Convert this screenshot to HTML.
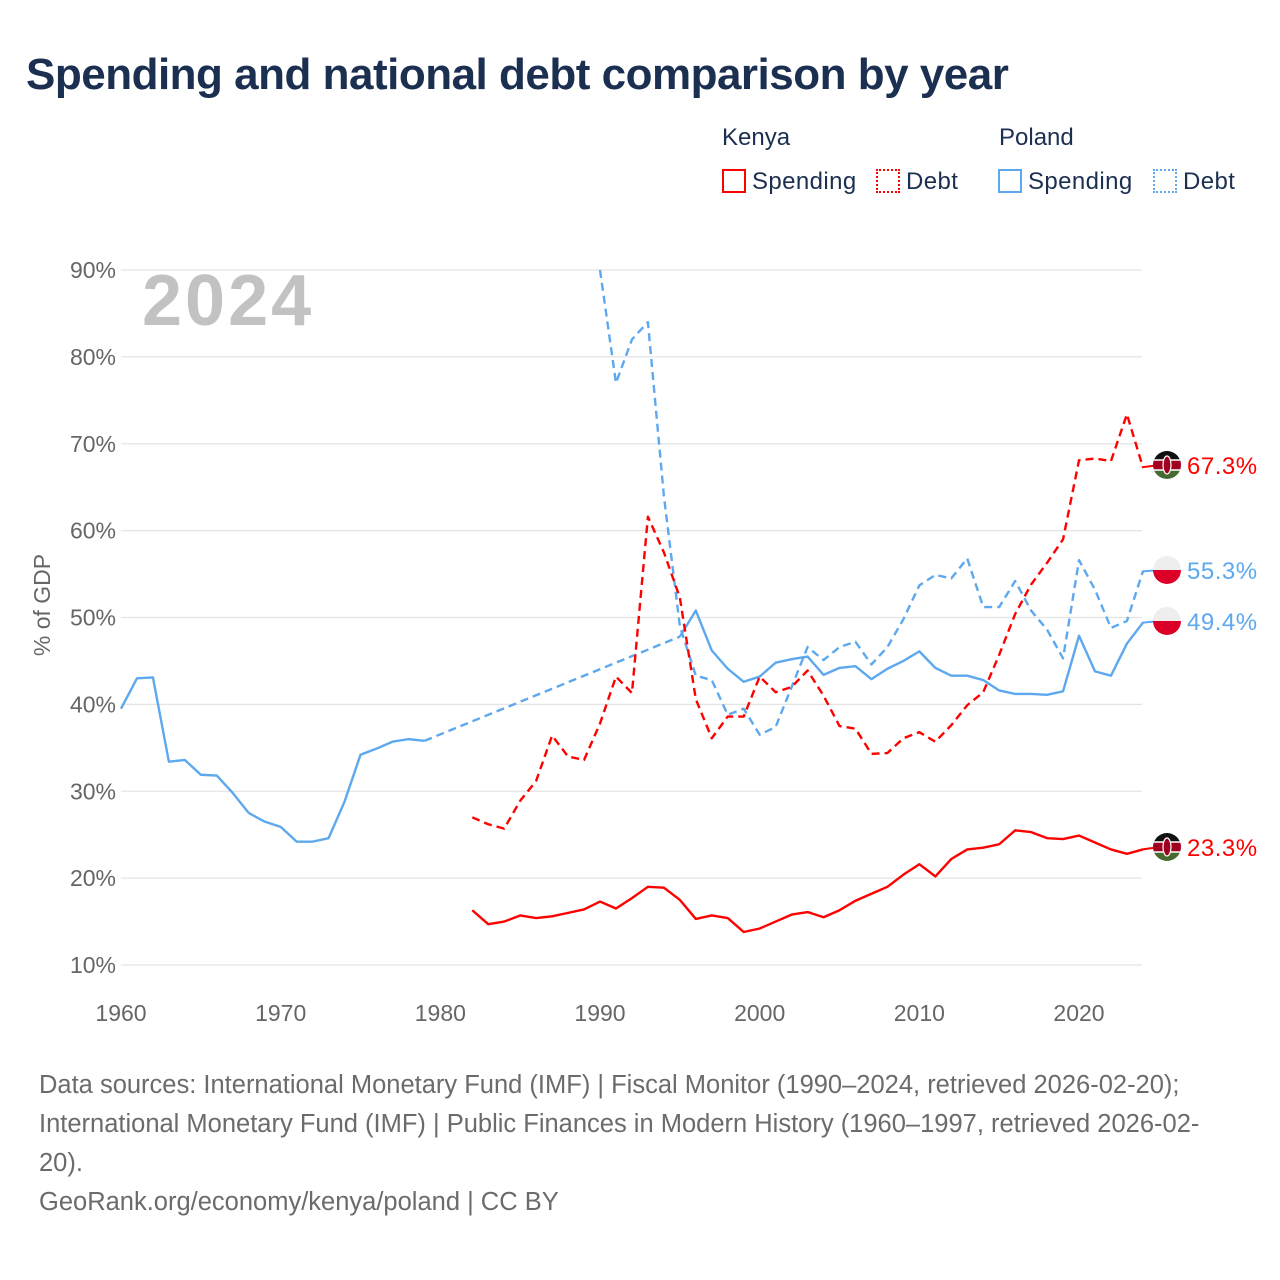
<!DOCTYPE html>
<html><head><meta charset="utf-8">
<style>
body{margin:0;background:#fff;font-family:"Liberation Sans",sans-serif;}
#wrap{position:relative;width:1280px;height:1280px;overflow:hidden;}
.t{position:absolute;white-space:nowrap;}
</style></head>
<body>
<div id="wrap">
<div class="t" style="left:26px;top:50px;font-size:44px;font-weight:bold;color:#1b2f50;letter-spacing:-0.5px;">Spending and national debt comparison by year</div>
<div class="t" style="left:722px;top:124px;font-size:24px;color:#1b2f50;">Kenya</div>
<div class="t" style="left:999px;top:124px;font-size:24px;color:#1b2f50;">Poland</div>
<div class="t" style="left:722px;top:168px;font-size:24px;color:#1b2f50;letter-spacing:0.4px;"><span style="display:inline-block;width:24px;height:24px;border:2px solid #ff0000;vertical-align:-4px;margin-right:6px;box-sizing:border-box;"></span>Spending</div>
<div class="t" style="left:876px;top:168px;font-size:24px;color:#1b2f50;letter-spacing:0.4px;"><span style="display:inline-block;width:24px;height:24px;border:2px dotted #ff0000;vertical-align:-4px;margin-right:6px;box-sizing:border-box;"></span>Debt</div>
<div class="t" style="left:998px;top:168px;font-size:24px;color:#1b2f50;letter-spacing:0.4px;"><span style="display:inline-block;width:24px;height:24px;border:2px solid #5da8ee;vertical-align:-4px;margin-right:6px;box-sizing:border-box;"></span>Spending</div>
<div class="t" style="left:1153px;top:168px;font-size:24px;color:#1b2f50;letter-spacing:0.4px;"><span style="display:inline-block;width:24px;height:24px;border:2px dotted #5da8ee;vertical-align:-4px;margin-right:6px;box-sizing:border-box;"></span>Debt</div>
<svg id="chart" width="1280" height="1280" style="position:absolute;left:0;top:0;"></svg>
<div class="t" style="left:39px;top:1066px;font-size:25.5px;line-height:39px;color:#6b6b6b;">Data sources: International Monetary Fund (IMF) | Fiscal Monitor (1990–2024, retrieved 2026-02-20);<br>International Monetary Fund (IMF) | Public Finances in Modern History (1960–1997, retrieved 2026-02-<br>20).<br>GeoRank.org/economy/kenya/poland | CC BY</div>
</div>
<script>
const yTicks=[10,20,30,40,50,60,70,80,90];
const xTicks=[1960,1970,1980,1990,2000,2010,2020];
const plYearsA=[1960,1961,1962,1963,1964,1965,1966,1967,1968,1969,1970,1971,1972,1973,1974,1975,1976,1977,1978,1979];
const plSpendA=[39.5,43,43.1,33.4,33.6,31.9,31.8,29.8,27.5,26.5,25.9,24.2,24.2,24.6,28.8,34.2,34.9,35.7,36,35.8];
const plYearsB=[1995,1996,1997,1998,1999,2000,2001,2002,2003,2004,2005,2006,2007,2008,2009,2010,2011,2012,2013,2014,2015,2016,2017,2018,2019,2020,2021,2022,2023,2024];
const plSpendB=[47.8,50.8,46.2,44.1,42.6,43.2,44.8,45.2,45.5,43.4,44.2,44.4,42.9,44.1,45,46.1,44.2,43.3,43.3,42.8,41.6,41.2,41.2,41.1,41.5,47.9,43.8,43.3,47,49.4];
const plDebtYears=[1990,1991,1992,1993,1994,1995,1996,1997,1998,1999,2000,2001,2002,2003,2004,2005,2006,2007,2008,2009,2010,2011,2012,2013,2014,2015,2016,2017,2018,2019,2020,2021,2022,2023,2024];
const plDebt=[90,77,82,84,64,49,43.3,42.8,38.8,39.5,36.5,37.4,42,46.6,45.1,46.6,47.2,44.6,46.6,49.8,53.7,54.9,54.5,56.8,51.2,51.2,54.2,50.8,48.6,45.3,56.6,53.2,48.8,49.6,55.3];
const keYears=[1982,1983,1984,1985,1986,1987,1988,1989,1990,1991,1992,1993,1994,1995,1996,1997,1998,1999,2000,2001,2002,2003,2004,2005,2006,2007,2008,2009,2010,2011,2012,2013,2014,2015,2016,2017,2018,2019,2020,2021,2022,2023,2024];
const keDebt=[27,26.2,25.7,28.9,31.2,36.4,34,33.6,37.8,43.2,41.3,61.6,57.5,52.3,40.6,36.1,38.6,38.6,43.2,41.4,42,43.9,41,37.5,37.2,34.3,34.4,36.1,36.8,35.7,37.6,39.9,41.4,45.7,50.4,53.8,56.3,59,68.1,68.3,68,73.4,67.3];
const keSpend=[16.3,14.7,15,15.7,15.4,15.6,16,16.4,17.3,16.5,17.7,19,18.9,17.5,15.3,15.7,15.4,13.8,14.2,15,15.8,16.1,15.5,16.3,17.4,18.2,19,20.4,21.6,20.2,22.2,23.3,23.5,23.9,25.5,25.3,24.6,24.5,24.9,24.1,23.3,22.8,23.3];

const NS='http://www.w3.org/2000/svg';
const svg=document.getElementById('chart');
const X=y=>121+(y-1960)*15.967;
const Y=v=>965-(v-10)*8.6875;
function mk(t,a,p){const e=document.createElementNS(NS,t);for(const k in a)e.setAttribute(k,a[k]);(p||svg).appendChild(e);return e;}
const clip=mk('clipPath',{id:'c'});mk('rect',{x:0,y:268,width:1280,height:800},clip);
yTicks.forEach(v=>{
  const g=mk('line',{x1:121,x2:1142,y1:Y(v),y2:Y(v),stroke:'#e4e4e4','stroke-width':1.2});
  
  
  const t=mk('text',{x:116,y:Y(v)+8,'text-anchor':'end','font-size':23,fill:'#666'});t.textContent=v+'%';
  
  
});
xTicks.forEach(v=>{
  const t=mk('text',{x:X(v),y:1021,'text-anchor':'middle','font-size':23,fill:'#666'});t.textContent=v;
  
  
});
const yt=mk('text',{x:50,y:605,'text-anchor':'middle','font-size':23,fill:'#666',transform:'rotate(-90 50 605)'});yt.textContent='% of GDP';


const yr=mk('text',{x:142,y:325,'font-size':72,'font-weight':'bold',fill:'#c2c2c2','letter-spacing':3});yr.textContent='2024';


function line(xs,vs,col,dash,name){
  const p=mk('polyline',{points:xs.map((x,i)=>X(x)+','+Y(vs[i])).join(' '),fill:'none',stroke:col,'stroke-width':2.4,'stroke-linejoin':'round','clip-path':'url(#c)'});
  if(dash)p.setAttribute('stroke-dasharray',dash);
  
  
}
const BL='#5da8ee',RD='#ff0000';
line(plYearsA,plSpendA,BL,null,'poland-spending-line-early');
line([plYearsA[plYearsA.length-1],plYearsB[0]],[plSpendA[plSpendA.length-1],plSpendB[0]],BL,'8 5','poland-spending-gap-connector');
line(plYearsB,plSpendB,BL,null,'poland-spending-line');
line(plDebtYears,plDebt,BL,'8 5','poland-debt-line');
line(keYears,keDebt,RD,'8 5','kenya-debt-line');
line(keYears,keSpend,RD,null,'kenya-spending-line');
function endLabel(v,col,country,name,ly){
  const y=ly;
  mk('line',{x1:1142,x2:1160,y1:Y(v),y2:y,stroke:col,'stroke-width':2});
  const g=mk('g',{});
  
  
  const cp=mk('clipPath',{id:'f'+name});mk('circle',{cx:1167,cy:y,r:14},cp);
  if(country==='pl'){
    mk('rect',{x:1153,y:y-14,width:28,height:14,fill:'#eeeeee','clip-path':'url(#f'+name+')'},g);
    mk('rect',{x:1153,y:y,width:28,height:14,fill:'#dc0028','clip-path':'url(#f'+name+')'},g);
  }else{
    mk('rect',{x:1153,y:y-14,width:28,height:9,fill:'#111','clip-path':'url(#f'+name+')'},g);
    mk('rect',{x:1153,y:y-5,width:28,height:10,fill:'#a00020','clip-path':'url(#f'+name+')'},g);
    mk('rect',{x:1153,y:y+5,width:28,height:9,fill:'#466b30','clip-path':'url(#f'+name+')'},g);
    mk('line',{x1:1153,x2:1181,y1:y-5,y2:y-5,stroke:'#fff','stroke-width':1.5,'clip-path':'url(#f'+name+')'},g);
    mk('line',{x1:1153,x2:1181,y1:y+5,y2:y+5,stroke:'#fff','stroke-width':1.5,'clip-path':'url(#f'+name+')'},g);
    mk('ellipse',{cx:1167,cy:y,rx:4,ry:9,fill:'#a00020',stroke:'#fff','stroke-width':1.2},g);
  }
  const t=mk('text',{x:1187,y:y+9,'font-size':24,fill:col,'letter-spacing':0.5});t.textContent=v.toFixed(1)+'%';
  
  
}
endLabel(keDebt[keDebt.length-1],RD,'ke','kenya-debt',465);
endLabel(plDebt[plDebt.length-1],BL,'pl','poland-debt',570);
endLabel(plSpendB[plSpendB.length-1],BL,'pl','poland-spending',621);
endLabel(keSpend[keSpend.length-1],RD,'ke','kenya-spending',847);
</script>
</body></html>
